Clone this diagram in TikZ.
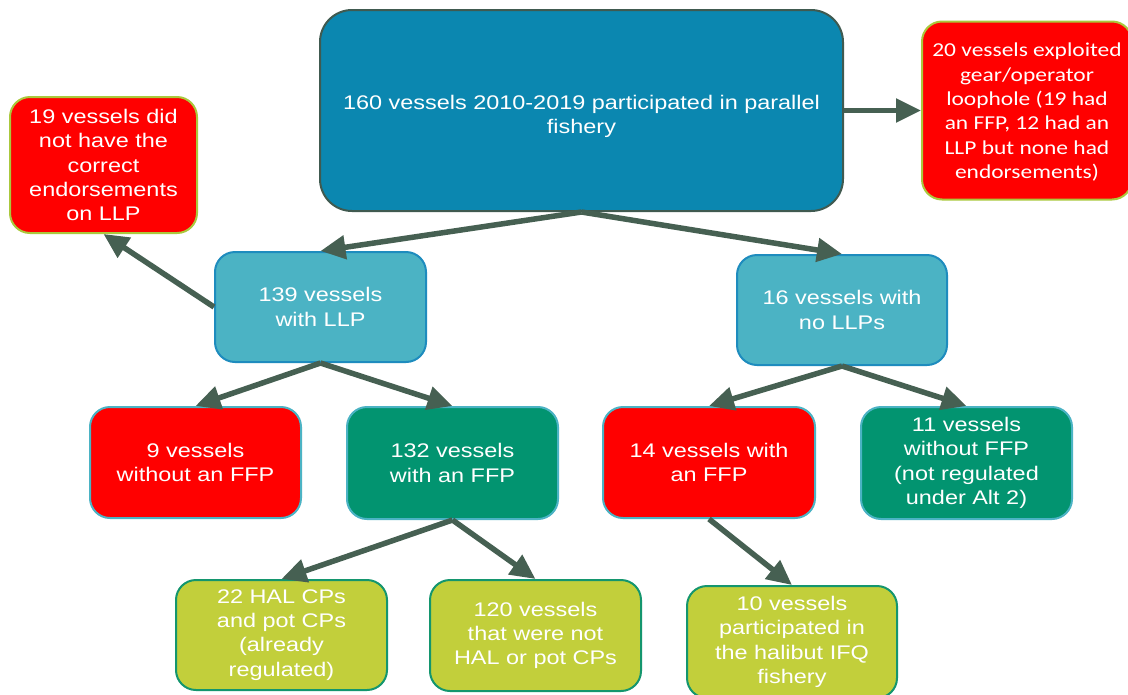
\documentclass[tikz,border=0pt]{standalone}
\usepackage{fontspec}
\setmainfont{Liberation Sans}[FakeStretch=1.19]
\newfontfamily\calibfont{Carlito}[FakeStretch=1.19]
\usetikzlibrary{arrows.meta}
\definecolor{topfill}{RGB}{11,135,176}
\definecolor{topborder}{RGB}{64,90,80}
\definecolor{lbfill}{RGB}{75,179,196}
\definecolor{lbborder}{RGB}{30,140,190}
\definecolor{redfill}{RGB}{255,0,0}
\definecolor{ygborder}{RGB}{170,200,60}
\definecolor{greenfill}{RGB}{2,148,112}
\definecolor{limefill}{RGB}{194,207,59}
\definecolor{limeborder}{RGB}{20,150,110}
\definecolor{arrowcol}{RGB}{70,96,82}
\tikzset{
  box/.style={rounded corners=20pt, draw, line width=2pt, text=white, align=center,
    inner sep=0pt, font=\fontsize{19.7}{24.3}\selectfont},
  topbox/.style={box, rounded corners=32pt, fill=topfill, draw=topborder},
  lbbox/.style={box, fill=lbfill, draw=lbborder},
  redA/.style={box, fill=redfill, draw=ygborder},
  redB/.style={box, fill=redfill, draw=lbfill},
  greenbox/.style={box, fill=greenfill, draw=lbfill},
  limebox/.style={box, fill=limefill, draw=limeborder},
  conn/.style={draw=arrowcol, line width=5.5pt, -{Triangle[length=25pt,width=23pt]}}
}
\begin{document}
\begin{tikzpicture}[x=1pt,y=-1pt]
\useasboundingbox (0,0) rectangle (1128,694);
\clip (0,0) rectangle (1128,694);
\fill[white] (0,0) rectangle (1128,694);
\node[topbox, minimum width=523pt, minimum height=201pt] (top) at (581.5,110.5)
  {\rule{0pt}{26pt}160 vessels 2010-2019 participated in parallel\\fishery};
\node[redA, minimum width=210pt, minimum height=178pt, font=\calibfont\fontsize{19.7}{24.4}\selectfont] (red20) at (1027,110.5)
  {\rule{0pt}{17pt}20 vessels exploited\\gear/operator\\loophole (19 had\\an FFP, 12 had an\\LLP but none had\\endorsements)};
\node[redA, minimum width=187pt, minimum height=136pt] (red19) at (103.5,165)
  {19 vessels did\\not have the\\correct\\endorsements\\on LLP};
\node[lbbox, minimum width=211pt, minimum height=110pt] (b139) at (320.5,307)
  {139 vessels\\with LLP};
\node[lbbox, minimum width=210pt, minimum height=110pt] (b16) at (842,310)
  {16 vessels with\\no LLPs};
\node[redB, minimum width=211pt, minimum height=111pt] (b9) at (195.5,462.5)
  {9 vessels\\without an FFP};
\node[greenbox, minimum width=211pt, minimum height=112pt] (b132) at (452.5,463)
  {132 vessels\\with an FFP};
\node[redB, minimum width=212pt, minimum height=111pt] (b14) at (709,462.5)
  {14 vessels with\\an FFP};
\node[greenbox, minimum width=211pt, minimum height=112pt] (b11) at (966.5,463)
  {11 vessels\\without FFP\\(not regulated\\under Alt 2)};
\node[limebox, minimum width=211pt, minimum height=110pt] (b22) at (281.5,635)
  {22 HAL CPs\\and pot CPs\\(already\\regulated)};
\node[limebox, minimum width=211pt, minimum height=111pt] (b120) at (535.5,635.5)
  {120 vessels\\that were not\\HAL or pot CPs};
\node[limebox, minimum width=210pt, minimum height=112pt] (b10) at (792,642)
  {10 vessels\\participated in\\the halibut IFQ\\fishery};
\draw[conn] (top.east) -- (red20.west);
\draw[conn] (top.south) -- (b139.north);
\draw[conn] (top.south) -- (b16.north);
\draw[conn] (b139.west) -- (red19.south);
\draw[conn] (b139.south) -- (b9.north);
\draw[conn] (b139.south) -- (b132.north);
\draw[conn] (b16.south) -- (b14.north);
\draw[conn] (b16.south) -- (b11.north);
\draw[conn] (b132.south) -- (b22.north);
\draw[conn] (b132.south) -- (b120.north);
\draw[conn] (b14.south) -- (b10.north);
\end{tikzpicture}
\end{document}
